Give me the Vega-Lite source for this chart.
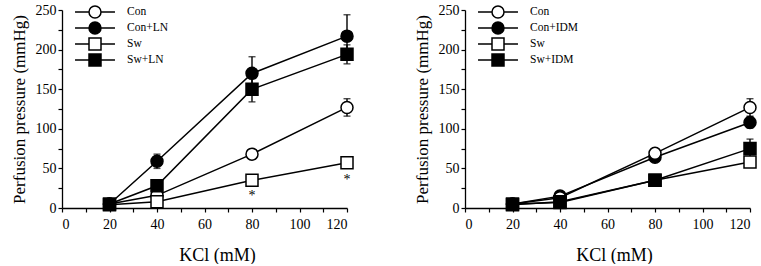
{
  "$schema": "https://vega.github.io/schema/vega-lite/v6.json",
  "background": "white",
  "padding": {"left": 10, "top": 3, "right": 4, "bottom": 0},
  "spacing": 57,
  "datasets": {
    "left": [
      {"series": "Con", "kcl": 20, "p": 5},
      {"series": "Con", "kcl": 40, "p": 16},
      {"series": "Con", "kcl": 80, "p": 68, "err": 6},
      {"series": "Con", "kcl": 120, "p": 127, "err": 11},
      {"series": "Con+LN", "kcl": 20, "p": 5},
      {"series": "Con+LN", "kcl": 40, "p": 59, "err": 9},
      {"series": "Con+LN", "kcl": 80, "p": 170, "err": 21},
      {"series": "Con+LN", "kcl": 120, "p": 217, "err": 27},
      {"series": "Sw", "kcl": 20, "p": 4},
      {"series": "Sw", "kcl": 40, "p": 8},
      {"series": "Sw", "kcl": 80, "p": 35},
      {"series": "Sw", "kcl": 120, "p": 57},
      {"series": "Sw+LN", "kcl": 20, "p": 5},
      {"series": "Sw+LN", "kcl": 40, "p": 28},
      {"series": "Sw+LN", "kcl": 80, "p": 150, "err": 16},
      {"series": "Sw+LN", "kcl": 120, "p": 194, "err": 12}
    ],
    "right": [
      {"series": "Con+IDM", "kcl": 20, "p": 5},
      {"series": "Con+IDM", "kcl": 40, "p": 15},
      {"series": "Con+IDM", "kcl": 80, "p": 64, "err": 5},
      {"series": "Con+IDM", "kcl": 120, "p": 108, "err": 7},
      {"series": "Con", "kcl": 20, "p": 5},
      {"series": "Con", "kcl": 40, "p": 13},
      {"series": "Con", "kcl": 80, "p": 69, "err": 5},
      {"series": "Con", "kcl": 120, "p": 127, "err": 11},
      {"series": "Sw", "kcl": 20, "p": 4},
      {"series": "Sw", "kcl": 40, "p": 8},
      {"series": "Sw", "kcl": 80, "p": 35},
      {"series": "Sw", "kcl": 120, "p": 58},
      {"series": "Sw+IDM", "kcl": 20, "p": 5},
      {"series": "Sw+IDM", "kcl": 40, "p": 7},
      {"series": "Sw+IDM", "kcl": 80, "p": 35},
      {"series": "Sw+IDM", "kcl": 120, "p": 75, "err": 12}
    ],
    "stars": [
      {"kcl": 80, "p": 20, "label": "*"},
      {"kcl": 120, "p": 41, "label": "*"}
    ]
  },
  "config": {
    "font": "Liberation Serif",
    "view": {"stroke": null},
    "axis": {
      "grid": false,
      "domainColor": "black",
      "domainWidth": 1.3,
      "tickColor": "black",
      "tickWidth": 1.2,
      "tickSize": 4,
      "labelFont": "Liberation Serif",
      "labelFontSize": 14,
      "labelColor": "black",
      "titleFont": "Liberation Serif",
      "titleFontWeight": "normal",
      "titleColor": "black"
    },
    "legend": {
      "orient": "none",
      "title": null,
      "padding": 0,
      "rowPadding": -2.5,
      "symbolOffset": 0,
      "labelOffset": 25,
      "labelFont": "Liberation Serif",
      "labelFontSize": 11.5,
      "labelColor": "black",
      "symbolSize": 144,
      "symbolStrokeWidth": 1.5,
      "symbolStrokeColor": "black",
      "symbolOpacity": 1
    }
  },
  "resolve": {
    "scale": {"x": "independent", "y": "independent", "shape": "independent", "fill": "independent", "stroke": "independent"},
    "legend": {"shape": "independent", "fill": "independent", "stroke": "independent"}
  },
  "hconcat": [
    {
      "width": 285,
      "height": 198,
      "data": {"name": "left"},
      "resolve": {"scale": {"shape": "independent", "fill": "independent", "stroke": "independent"}},
      "encoding": {
        "x": {
          "field": "kcl", "type": "quantitative",
          "scale": {"domain": [0, 120], "nice": false, "zero": false},
          "axis": {
            "title": "KCl (mM)", "titleFontSize": 18, "titlePadding": 15, "titleX": 155,
            "values": [0, 10, 20, 30, 40, 50, 60, 70, 80, 90, 100, 110, 120],
            "labelExpr": "datum.value % 20 === 0 ? datum.label : ''",
            "labelPadding": 5
          }
        },
        "y": {
          "field": "p", "type": "quantitative",
          "scale": {"domain": [0, 250], "nice": false},
          "axis": {
            "title": "Perfusion pressure (mmHg)", "titleFontSize": 17, "titlePadding": 7,
            "values": [0, 25, 50, 75, 100, 125, 150, 175, 200, 225, 250],
            "labelExpr": "datum.value % 50 === 0 ? datum.label : ''",
            "labelPadding": 2
          }
        }
      },
      "layer": [
        {
          "mark": {"type": "line", "color": "black", "strokeWidth": 1.5},
          "encoding": {"detail": {"field": "series"}}
        },
        {
          "transform": [{"filter": "datum.err > 0"}],
          "mark": {"type": "errorbar", "color": "black", "thickness": 1.4, "ticks": {"size": 7, "thickness": 1.4, "color": "black"}},
          "encoding": {"yError": {"field": "err"}}
        },
        {
          "mark": {"type": "point", "stroke": "black", "strokeWidth": 1.5, "opacity": 1, "size": 144},
          "encoding": {
            "shape": {
              "field": "series", "type": "nominal",
              "scale": {"domain": ["Con", "Con+LN", "Sw", "Sw+LN"], "range": ["circle", "circle", "square", "square"]},
              "legend": null
            },
            "fill": {
              "field": "series", "type": "nominal",
              "scale": {"domain": ["Con", "Con+LN", "Sw", "Sw+LN"], "range": ["white", "black", "white", "black"]},
              "legend": null
            }
          }
        },
        {
          "transform": [{"filter": "datum.kcl < 0"}],
          "mark": {"type": "point", "strokeWidth": 1.5, "size": 144},
          "encoding": {
            "shape": {
              "field": "series", "type": "nominal",
              "scale": {"domain": ["Con", "Con+LN", "Sw", "Sw+LN"], "range": [
                "M-3.33,0H-1M1,0H3.33M-1,0A1,1,0,1,1,1,0A1,1,0,1,1,-1,0Z",
                "M-3.33,0H-1M1,0H3.33M-1,0A1,1,0,1,1,1,0A1,1,0,1,1,-1,0Z",
                "M-3.33,0H-1M1,0H3.33M-1,-1H1V1H-1Z",
                "M-3.33,0H-1M1,0H3.33M-1,-1H1V1H-1Z"]},
              "legend": {"legendX": 26, "legendY": -5}
            },
            "fill": {
              "field": "series", "type": "nominal",
              "scale": {"domain": ["Con", "Con+LN", "Sw", "Sw+LN"], "range": ["white", "black", "white", "black"]}
            },
            "stroke": {
              "field": "series", "type": "nominal",
              "scale": {"domain": ["Con", "Con+LN", "Sw", "Sw+LN"], "range": ["black", "black", "black", "black"]}
            }
          }
        },
        {
          "data": {"name": "stars"},
          "mark": {"type": "text", "fontSize": 14, "dy": 4, "color": "black"},
          "encoding": {"text": {"field": "label"}}
        }
      ]
    },
    {
      "width": 285,
      "height": 198,
      "data": {"name": "right"},
      "resolve": {"scale": {"shape": "independent", "fill": "independent", "stroke": "independent"}},
      "encoding": {
        "x": {
          "field": "kcl", "type": "quantitative",
          "scale": {"domain": [0, 120], "nice": false, "zero": false},
          "axis": {
            "title": "KCl (mM)", "titleFontSize": 18, "titlePadding": 15, "titleX": 149,
            "values": [0, 10, 20, 30, 40, 50, 60, 70, 80, 90, 100, 110, 120],
            "labelExpr": "datum.value % 20 === 0 ? datum.label : ''",
            "labelPadding": 5
          }
        },
        "y": {
          "field": "p", "type": "quantitative",
          "scale": {"domain": [0, 250], "nice": false},
          "axis": {
            "title": "Perfusion pressure (mmHg)", "titleFontSize": 17, "titlePadding": 7,
            "values": [0, 25, 50, 75, 100, 125, 150, 175, 200, 225, 250],
            "labelExpr": "datum.value % 50 === 0 ? datum.label : ''",
            "labelPadding": 2
          }
        }
      },
      "layer": [
        {
          "mark": {"type": "line", "color": "black", "strokeWidth": 1.5},
          "encoding": {"detail": {"field": "series"}}
        },
        {
          "transform": [{"filter": "datum.err > 0"}],
          "mark": {"type": "errorbar", "color": "black", "thickness": 1.4, "ticks": {"size": 7, "thickness": 1.4, "color": "black"}},
          "encoding": {"yError": {"field": "err"}}
        },
        {
          "mark": {"type": "point", "stroke": "black", "strokeWidth": 1.5, "opacity": 1, "size": 144},
          "encoding": {
            "shape": {
              "field": "series", "type": "nominal",
              "scale": {"domain": ["Con", "Con+IDM", "Sw", "Sw+IDM"], "range": ["circle", "circle", "square", "square"]},
              "legend": null
            },
            "fill": {
              "field": "series", "type": "nominal",
              "scale": {"domain": ["Con", "Con+IDM", "Sw", "Sw+IDM"], "range": ["white", "black", "white", "black"]},
              "legend": null
            }
          }
        },
        {
          "transform": [{"filter": "datum.kcl < 0"}],
          "mark": {"type": "point", "strokeWidth": 1.5, "size": 144},
          "encoding": {
            "shape": {
              "field": "series", "type": "nominal",
              "scale": {"domain": ["Con", "Con+IDM", "Sw", "Sw+IDM"], "range": [
                "M-3.33,0H-1M1,0H3.33M-1,0A1,1,0,1,1,1,0A1,1,0,1,1,-1,0Z",
                "M-3.33,0H-1M1,0H3.33M-1,0A1,1,0,1,1,1,0A1,1,0,1,1,-1,0Z",
                "M-3.33,0H-1M1,0H3.33M-1,-1H1V1H-1Z",
                "M-3.33,0H-1M1,0H3.33M-1,-1H1V1H-1Z"]},
              "legend": {"legendX": 26, "legendY": -5}
            },
            "fill": {
              "field": "series", "type": "nominal",
              "scale": {"domain": ["Con", "Con+IDM", "Sw", "Sw+IDM"], "range": ["white", "black", "white", "black"]}
            },
            "stroke": {
              "field": "series", "type": "nominal",
              "scale": {"domain": ["Con", "Con+IDM", "Sw", "Sw+IDM"], "range": ["black", "black", "black", "black"]}
            }
          }
        }
      ]
    }
  ]
}
